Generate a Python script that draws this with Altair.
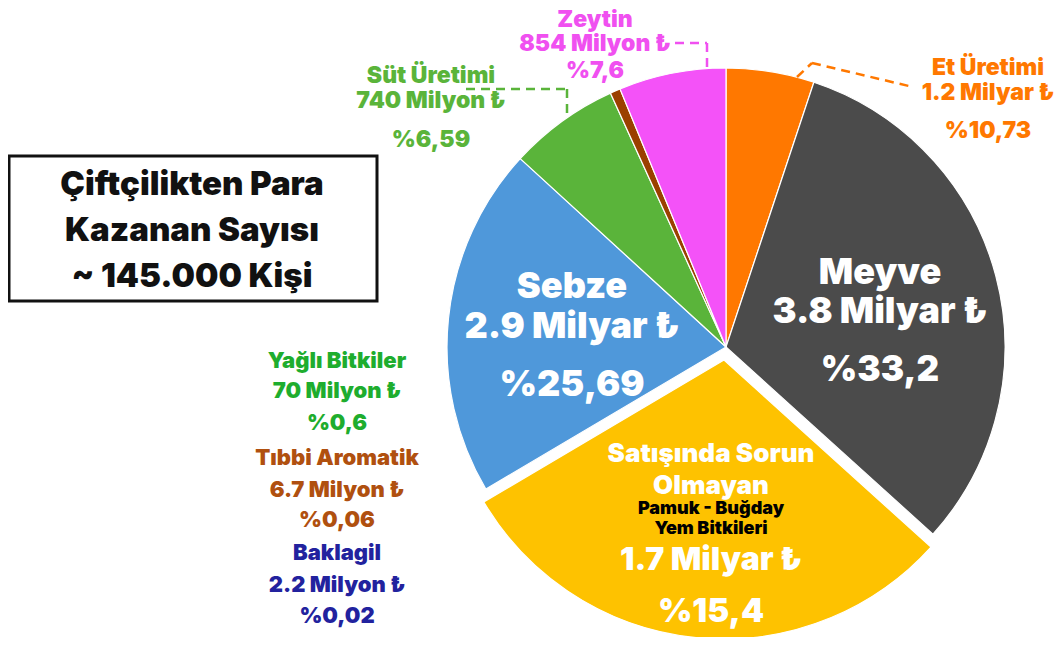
import altair as alt
import pandas as pd

# ---- data (slice sizes as drawn in the picture, in percent of the circle) ----
categories = ["Et Üretimi", "Meyve", "Satışında Sorun Olmayan", "Sebze",
              "Süt Üretimi", "Tıbbi Aromatik", "Zeytin"]
shares = [5.1, 31.6, 29.8, 20.3, 6.4, 0.6, 6.2]
colors = ["#ff7800", "#4b4b4b", "#fec200", "#4f98da", "#5ab43a", "#9b4000", "#f452f8"]
exploded = "Satışında Sorun Olmayan"

# printed labels
meyve_lines = ["Meyve", "3.8 Milyar ₺", "%33,2"]
sebze_lines = ["Sebze", "2.9 Milyar ₺", "%25,69"]
sorun_lines = ["Satışında Sorun", "Olmayan", "Pamuk - Buğday", "Yem Bitkileri", "1.7 Milyar ₺", "%15,4"]
et_lines = ["Et Üretimi", "1.2 Milyar ₺", "%10,73"]
zeytin_lines = ["Zeytin", "854 Milyon ₺", "%7,6"]
sut_lines = ["Süt Üretimi", "740 Milyon ₺", "%6,59"]
left_lines = ["Yağlı Bitkiler", "70 Milyon ₺", "%0,6",
              "Tıbbi Aromatik", "6.7 Milyon ₺", "%0,06",
              "Baklagil", "2.2 Milyon ₺", "%0,02"]
title_lines = ["Çiftçilikten Para", "Kazanan Sayısı", "~ 145.000 Kişi"]

df = pd.DataFrame({"category": categories, "share": shares, "order": list(range(len(categories)))})

FONT = "Inter"
WEIGHT = 900
W, H = 1047, 629
OX, OY = 8, 8  # page margin
CX, CY, R = 726 - OX, 347 - OY, 279

one = pd.DataFrame({"a": [0]})

theta_scale = alt.Scale(domain=[0, 100], range=[0, 6.283185307])
color_scale = alt.Scale(domain=categories, range=colors)

base = (alt.Chart(df)
        .transform_window(cum="sum(share)", sort=[alt.SortField("order", order="ascending")], frame=[None, 0])
        .transform_calculate(start="datum.cum - datum.share"))

enc = dict(
    theta=alt.Theta("start:Q", scale=theta_scale),
    theta2=alt.Theta2("cum:Q"),
    color=alt.Color("category:N", scale=color_scale, legend=None),
    x=alt.value(CX), y=alt.value(CY),
)

pie = (base.transform_filter(alt.datum.category != exploded)
       .mark_arc(outerRadius=R, stroke="white", strokeWidth=1.2)
       .encode(**enc))
pie_exp = (base.transform_filter(alt.datum.category == exploded)
           .mark_arc(outerRadius=R, stroke="white", strokeWidth=1.2, xOffset=-2, yOffset=13)
           .encode(**enc))


def txt(s, x, y, size, color, weight=WEIGHT):
    return (alt.Chart(one)
            .mark_text(font=FONT, fontSize=size, fontWeight=weight, color=color,
                       align="center", baseline="alphabetic")
            .encode(x=alt.value(x - OX), y=alt.value(y - OY), text=alt.value(s)))


def seg(x1, y1, x2, y2, color):
    return (alt.Chart(one)
            .mark_rule(color=color, strokeWidth=2.5, strokeDash=[9, 6])
            .encode(x=alt.value(x1 - OX), y=alt.value(y1 - OY),
                    x2=alt.value(x2 - OX), y2=alt.value(y2 - OY)))


layers = [pie, pie_exp]

# title box
layers.append(alt.Chart(one).mark_rect(fill="white", stroke="#111111", strokeWidth=3)
              .encode(x=alt.value(9 - OX), x2=alt.value(377 - OX),
                      y=alt.value(156 - OY), y2=alt.value(301 - OY)))
for s, y in zip(title_lines, [195, 241, 287]):
    layers.append(txt(s, 192, y, 33, "#111111"))

# Meyve
for s, y, sz in zip(meyve_lines, [284, 323, 381], [36, 36, 35]):
    layers.append(txt(s, 880, y, sz, "white"))
# Sebze
for s, y, sz in zip(sebze_lines, [298, 338, 396], [36, 36, 36]):
    layers.append(txt(s, 572, y, sz, "white"))
# Satışında Sorun Olmayan
for s, y, sz, c in zip(sorun_lines, [462, 494, 514, 534, 570, 622],
                       [26, 26, 18, 18, 32, 33],
                       ["white", "white", "black", "black", "white", "white"]):
    layers.append(txt(s, 711, y, sz, c))

# Et Üretimi
ET_C = "#ff7800"
for s, y in zip(et_lines, [75, 100, 138]):
    layers.append(txt(s, 988, y, 23, ET_C))
layers += [seg(797, 77, 812, 63, ET_C), seg(812, 63, 913, 87, ET_C)]

# Zeytin
Z_C = "#f050f0"
for s, y in zip(zeytin_lines, [27, 51, 78]):
    layers.append(txt(s, 595, y, 23, Z_C))
layers += [seg(675, 43, 707, 43, Z_C), seg(707, 43, 707, 70, Z_C)]

# Süt Üretimi
S_C = "#5ab43a"
for s, y in zip(sut_lines, [83, 108, 147]):
    layers.append(txt(s, 431, y, 23, S_C))
layers += [seg(466, 89, 567, 89, S_C), seg(567, 89, 567, 117, S_C)]

# left labels
left_colors = ["#1ead2e"] * 3 + ["#b0500f"] * 3 + ["#22229e"] * 3
left_y = [368, 398, 430, 465, 497, 527, 560, 592, 623]
for s, y, c in zip(left_lines, left_y, left_colors):
    layers.append(txt(s, 337, y, 22, c))

chart = (alt.layer(*layers)
         .properties(width=W, height=H, autosize=alt.AutoSizeParams(type="none"), padding=0,
                     background="white")
         .configure_view(stroke=None))

chart.save("out.html", embed_options={"renderer": "svg", "actions": False})
